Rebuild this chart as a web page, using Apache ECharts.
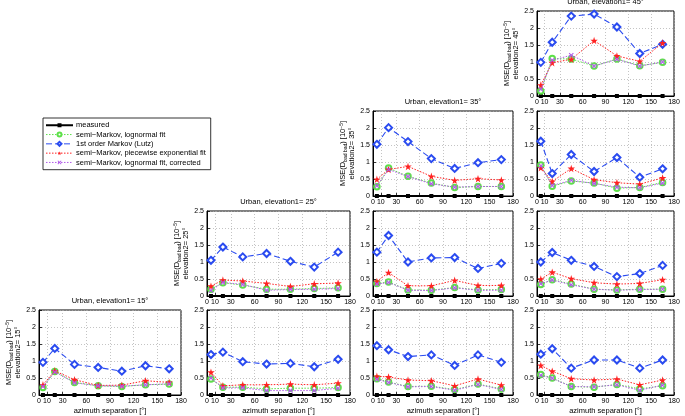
<!DOCTYPE html>
<html><head><meta charset="utf-8">
<script src="https://cdn.jsdelivr.net/npm/echarts@6/dist/echarts.min.js"></script>
<style>html,body{margin:0;padding:0;background:#fff}#c{width:685px;height:416px}</style>
</head><body><div id="c"></div>
<script>
// ---------------- data ----------------
const azimuth = [5, 20, 45, 75, 105, 135, 165];
const xTicks = [0, 10, 30, 60, 90, 120, 150, 180];
const elevations = [15, 25, 35, 45];
const seriesNames = ['measured', 'semi\u2212Markov, lognormal fit', '1st order Markov (Lutz)',
  'semi\u2212Markov, piecewise exponential fit', 'semi\u2212Markov, lognormal fit, corrected'];
const measured = [0, 0, 0, 0, 0, 0, 0];

// elevation1 = 15
const logn_15_15 = [0.22, 0.69, 0.37, 0.27, 0.25, 0.30, 0.32];
const lutz_15_15 = [0.96, 1.37, 0.90, 0.81, 0.70, 0.86, 0.77];
const pexp_15_15 = [0.30, 0.71, 0.45, 0.28, 0.29, 0.42, 0.37];
const corr_15_15 = [0.25, 0.68, 0.36, 0.27, 0.26, 0.30, 0.33];

const logn_15_25 = [0.47, 0.23, 0.23, 0.18, 0.20, 0.20, 0.22];
const lutz_15_25 = [1.19, 1.26, 0.98, 0.91, 0.93, 0.83, 1.05];
const pexp_15_25 = [0.67, 0.27, 0.30, 0.30, 0.32, 0.30, 0.35];
const corr_15_25 = [0.50, 0.21, 0.21, 0.13, 0.13, 0.13, 0.20];

const logn_15_35 = [0.48, 0.38, 0.25, 0.26, 0.16, 0.32, 0.18];
const lutz_15_35 = [1.45, 1.33, 1.13, 1.18, 0.87, 1.18, 0.96];
const pexp_15_35 = [0.55, 0.53, 0.44, 0.42, 0.27, 0.47, 0.29];
const corr_15_35 = [0.46, 0.37, 0.24, 0.25, 0.14, 0.31, 0.16];

const logn_15_45 = [0.60, 0.50, 0.25, 0.23, 0.31, 0.18, 0.27];
const lutz_15_45 = [1.20, 1.36, 0.79, 1.03, 1.03, 0.79, 1.03];
const pexp_15_45 = [0.87, 0.70, 0.48, 0.44, 0.47, 0.30, 0.44];
const corr_15_45 = [0.58, 0.49, 0.25, 0.24, 0.30, 0.14, 0.29];

// elevation1 = 25
const logn_25_25 = [0.20, 0.39, 0.32, 0.20, 0.20, 0.22, 0.24];
const lutz_25_25 = [1.05, 1.44, 1.15, 1.25, 1.02, 0.85, 1.29];
const pexp_25_25 = [0.29, 0.47, 0.44, 0.37, 0.28, 0.36, 0.38];
const corr_25_25 = [0.16, 0.40, 0.34, 0.17, 0.19, 0.20, 0.22];

const logn_25_35 = [0.37, 0.41, 0.18, 0.17, 0.25, 0.18, 0.19];
const lutz_25_35 = [1.29, 1.78, 1.00, 1.12, 1.13, 0.81, 0.96];
const pexp_25_35 = [0.43, 0.69, 0.30, 0.30, 0.46, 0.31, 0.31];
const corr_25_35 = [0.35, 0.40, 0.17, 0.16, 0.24, 0.17, 0.17];

const logn_25_45 = [0.34, 0.48, 0.35, 0.20, 0.18, 0.20, 0.20];
const lutz_25_45 = [1.00, 1.28, 1.05, 0.87, 0.57, 0.66, 0.90];
const pexp_25_45 = [0.50, 0.70, 0.51, 0.39, 0.35, 0.37, 0.48];
const corr_25_45 = [0.36, 0.47, 0.33, 0.20, 0.17, 0.19, 0.20];

// elevation1 = 35
const logn_35_35 = [0.27, 0.82, 0.58, 0.38, 0.25, 0.28, 0.28];
const lutz_35_35 = [1.52, 2.01, 1.60, 1.10, 0.81, 0.98, 1.07];
const pexp_35_35 = [0.49, 0.78, 0.87, 0.58, 0.46, 0.51, 0.47];
const corr_35_35 = [0.30, 0.78, 0.57, 0.36, 0.26, 0.28, 0.28];

const logn_35_45 = [0.91, 0.29, 0.44, 0.38, 0.23, 0.25, 0.40];
const lutz_35_45 = [1.61, 0.66, 1.22, 0.72, 1.13, 0.55, 0.80];
const pexp_35_45 = [0.83, 0.43, 0.81, 0.48, 0.39, 0.35, 0.53];
const corr_35_45 = [0.88, 0.31, 0.46, 0.37, 0.26, 0.24, 0.38];

// elevation1 = 45
const logn_45_45 = [0.15, 1.10, 1.09, 0.88, 1.09, 0.89, 0.99];
const lutz_45_45 = [0.99, 1.58, 2.35, 2.41, 2.03, 1.25, 1.52];
const pexp_45_45 = [0.32, 0.98, 1.08, 1.63, 1.18, 1.02, 1.56];
const corr_45_45 = [0.20, 1.05, 1.20, 0.88, 1.08, 0.88, 1.00];

const panels = [
  { e1: 15, e2: 15, logn: logn_15_15, lutz: lutz_15_15, pexp: pexp_15_15, corr: corr_15_15 },
  { e1: 15, e2: 25, logn: logn_15_25, lutz: lutz_15_25, pexp: pexp_15_25, corr: corr_15_25 },
  { e1: 15, e2: 35, logn: logn_15_35, lutz: lutz_15_35, pexp: pexp_15_35, corr: corr_15_35 },
  { e1: 15, e2: 45, logn: logn_15_45, lutz: lutz_15_45, pexp: pexp_15_45, corr: corr_15_45 },
  { e1: 25, e2: 25, logn: logn_25_25, lutz: lutz_25_25, pexp: pexp_25_25, corr: corr_25_25 },
  { e1: 25, e2: 35, logn: logn_25_35, lutz: lutz_25_35, pexp: pexp_25_35, corr: corr_25_35 },
  { e1: 25, e2: 45, logn: logn_25_45, lutz: lutz_25_45, pexp: pexp_25_45, corr: corr_25_45 },
  { e1: 35, e2: 35, logn: logn_35_35, lutz: lutz_35_35, pexp: pexp_35_35, corr: corr_35_35 },
  { e1: 35, e2: 45, logn: logn_35_45, lutz: lutz_35_45, pexp: pexp_35_45, corr: corr_35_45 },
  { e1: 45, e2: 45, logn: logn_45_45, lutz: lutz_45_45, pexp: pexp_45_45, corr: corr_45_45 }
];

// ---------------- layout / style ----------------
const FONT = '"Liberation Sans", Arial, Helvetica, sans-serif';
const colLeft = [39, 207, 373, 537];
const colWidth = [142, 143, 140, 137];
const rowTop = [310, 211, 111, 11]; // indexed by elevation1 index
const rowH = 85;

const STAR = 'path://M50,0 L61,35 L98,35 L68,57 L79,91 L50,70 L21,91 L32,57 L2,35 L39,35 Z';
const XMARK = 'path://M0,1.5 L1.5,0 L5,3.5 L8.5,0 L10,1.5 L6.5,5 L10,8.5 L8.5,10 L5,6.5 L1.5,10 L0,8.5 L3.5,5 Z';

const styles = [
  { color: '#000000', lineType: 'solid', width: 2, symbol: 'rect', size: 4, bw: 0 },
  { color: '#5ee04a', lineType: [1.5, 1.5], width: 1, symbol: 'emptyCircle', size: 5.5, bw: 0.9 },
  { color: '#2a4bf0', lineType: [6, 3], width: 1.1, symbol: 'emptyDiamond', size: 7, bw: 0.8 },
  { color: '#ff2222', lineType: [1.5, 1.5], width: 1, symbol: STAR, size: 7.5, bw: 0 },
  { color: '#b05ae8', lineType: [1.5, 1.5], width: 1, symbol: XMARK, size: 5, bw: 0 }
];

const grids = [], xAxes = [], yAxes = [], series = [], graphics = [];
panels.forEach((p, i) => {
  const c = elevations.indexOf(p.e2);
  const r = elevations.indexOf(p.e1);
  const left = colLeft[c], width = colWidth[c], top = rowTop[r];
  grids.push({ left, top, width, height: rowH, show: true, borderColor: '#000', borderWidth: 1, backgroundColor: '#fff' });
  const isLeftmost = p.e1 === p.e2;
  const isBottom = p.e1 === 15;
  xAxes.push({
    gridIndex: i, type: 'value', min: 0, max: 180, interval: 30,
    axisLine: { show: true, lineStyle: { color: '#000', width: 1 } },
    axisTick: { show: true, inside: true, length: 3, customValues: xTicks, lineStyle: { color: '#000', width: 0.8 } },
    axisLabel: { customValues: xTicks, fontSize: 7, color: '#000', margin: 3, fontFamily: FONT, hideOverlap: false },
    splitLine: { show: true, lineStyle: { type: [1, 2], color: '#aaaaaa', width: 0.7 } },
    name: isBottom ? 'azimuth separation [\u00b0]' : '',
    nameLocation: 'middle', nameGap: 12,
    nameTextStyle: { fontSize: 7.5, color: '#000', fontFamily: FONT }
  });
  yAxes.push({
    gridIndex: i, type: 'value', min: 0, max: 2.5, interval: 0.5,
    axisLine: { show: true, lineStyle: { color: '#000', width: 1 } },
    axisTick: { show: true, inside: true, length: 3, lineStyle: { color: '#000', width: 0.8 } },
    axisLabel: { fontSize: 7, color: '#000', margin: 3, fontFamily: FONT },
    splitLine: { show: true, lineStyle: { type: [1, 2], color: '#aaaaaa', width: 0.7 } },
    name: isLeftmost ? '{a|MSE(D}{b|bad bad}{a|) [10}{c|\u22125}{a|]}\n{a|elevation2= ' + p.e2 + '\u00b0}' : '',
    nameLocation: 'middle', nameRotate: 90, nameGap: 14,
    nameTextStyle: {
      color: '#000', fontFamily: FONT,
      rich: {
        a: { fontSize: 7.5, lineHeight: 9, color: '#000', fontFamily: FONT },
        b: { fontSize: 5, lineHeight: 4, verticalAlign: 'bottom', color: '#000', fontFamily: FONT },
        c: { fontSize: 5, lineHeight: 4, verticalAlign: 'top', color: '#000', fontFamily: FONT }
      }
    }
  });
  if (isLeftmost) {
    graphics.push({
      type: 'text', x: left + width / 2, y: top - 9,
      style: { text: 'Urban, elevation1= ' + p.e1 + '\u00b0', align: 'center', verticalAlign: 'middle',
               fontSize: 7.5, fontFamily: FONT, fill: '#000' }
    });
  }
  const values = [measured, p.logn, p.lutz, p.pexp, p.corr];
  values.forEach((vals, k) => {
    const s = styles[k];
    series.push({
      type: 'line', name: seriesNames[k], xAxisIndex: i, yAxisIndex: i,
      data: azimuth.map((a, j) => [a, vals[j]]),
      symbol: s.symbol, symbolSize: s.size, showSymbol: true, clip: false,
      lineStyle: { color: s.color, width: s.width, type: s.lineType },
      itemStyle: { color: s.color, borderColor: s.color, borderWidth: s.bw },
      emphasis: { disabled: true }, silent: true, animation: false, z: 2 + k
    });
  });
});

const legendData = seriesNames.map((name, k) => ({
  name,
  lineStyle: { width: k === 0 ? 2 : 1, type: styles[k].lineType, color: styles[k].color }
}));

const chart = echarts.init(document.getElementById('c'), null, { renderer: 'canvas' });
chart.setOption({
  animation: false,
  backgroundColor: '#fff',
  grid: grids, xAxis: xAxes, yAxis: yAxes, series,
  graphic: graphics,
  legend: {
    data: legendData, orient: 'vertical', left: 43, top: 118,
    itemWidth: 27, itemHeight: 5, itemGap: 0.8,
    padding: [3, 5, 3, 2], borderColor: '#000', borderWidth: 0.8, backgroundColor: '#fff',
    selectedMode: false,
    textStyle: { fontSize: 7.5, lineHeight: 8.5, color: '#000', fontFamily: FONT, padding: [0, 0, 0, -2] }
  }
});
</script></body></html>
